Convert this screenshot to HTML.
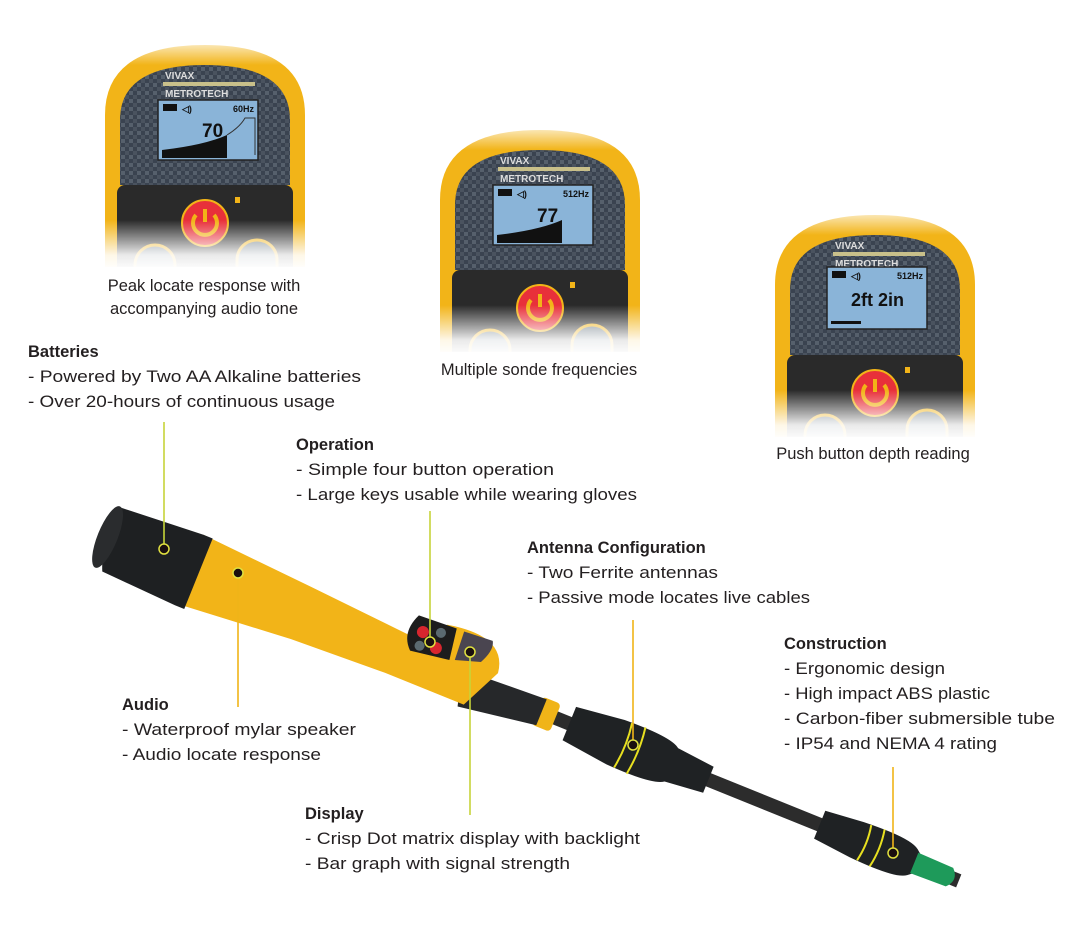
<!DOCTYPE html>
<html><head><meta charset="utf-8"><style>
html,body{margin:0;padding:0;background:#fff;}
svg{display:block;}
text{font-family:"Liberation Sans",sans-serif;fill:#231f20;}
.h{font-weight:bold;font-size:16.5px;}
.t{font-size:16.5px;}
</style></head><body>
<svg width="1088" height="930" viewBox="0 0 1088 930" xmlns="http://www.w3.org/2000/svg">
<defs>
<linearGradient id="fade" x1="0" y1="0" x2="0" y2="1">
<stop offset="0" stop-color="#fff" stop-opacity="0"/>
<stop offset="0.7" stop-color="#fff" stop-opacity="0.9"/>
<stop offset="1" stop-color="#fff" stop-opacity="1"/>
</linearGradient>
<linearGradient id="fadeTop" x1="0" y1="0" x2="0" y2="1">
<stop offset="0" stop-color="#fff" stop-opacity="1"/>
<stop offset="1" stop-color="#fff" stop-opacity="0"/>
</linearGradient>
<pattern id="carbon" width="8" height="8" patternUnits="userSpaceOnUse">
<rect width="8" height="8" fill="#3a4350"/>
<rect width="4" height="4" fill="#56606c"/>
<rect x="4" y="4" width="4" height="4" fill="#4a535f"/>
</pattern>
<clipPath id="dc"><rect x="-10" y="0" width="220" height="232"/></clipPath>
<g id="dev">
<g clip-path="url(#dc)">
<path d="M0,240 L0,80 Q0,10 100,10 Q200,10 200,80 L200,240 Z" fill="#f2b418"/>
<path d="M15,150 L15,85 Q15,30 100,30 Q185,30 185,85 L185,150 Z" fill="url(#carbon)"/>
<rect x="58" y="47" width="92" height="4" fill="#c9c08a"/>
<text x="60" y="44" style="font-size:10px;font-weight:bold;fill:#ddd">VIVAX</text>
<text x="60" y="62" style="font-size:10px;font-weight:bold;fill:#ddd">METROTECH</text>
<rect x="12" y="150" width="176" height="100" rx="8" fill="#2a2a2a"/>
<circle cx="100" cy="188" r="23" fill="#e8303a" stroke="#f2b418" stroke-width="2"/>
<path d="M91,180 A12,12 0 1,0 109,180" fill="none" stroke="#f2b418" stroke-width="4"/>
<line x1="100" y1="174" x2="100" y2="187" stroke="#f2b418" stroke-width="4"/>
<rect x="130" y="162" width="5" height="6" fill="#f2b418"/>
<rect x="30" y="210" width="40" height="50" rx="20" fill="#6b7a84" stroke="#f2b418" stroke-width="3"/>
<rect x="132" y="205" width="40" height="55" rx="20" fill="#6b7a84" stroke="#f2b418" stroke-width="3"/>
<rect x="-5" y="0" width="210" height="30" fill="url(#fadeTop)"/>
<rect x="-5" y="185" width="210" height="50" fill="url(#fade)"/>
</g>
</g>
</defs>

<g transform="translate(105,35)">
<use href="#dev"/>
<rect x="53" y="65" width="100" height="60" fill="#8ab4d8" stroke="#222" stroke-width="1.5"/>
<rect x="58" y="69" width="14" height="7" fill="#111"/>
<text x="77" y="77" style="font-size:9px;font-weight:bold;fill:#111">◁)</text>
<text x="128" y="77" style="font-size:9px;font-weight:bold;fill:#111">60Hz</text>
<text x="97" y="102" style="font-size:19px;font-weight:bold;fill:#111">70</text>
<path d="M57,115 Q100,110 122,100 L122,123 L57,123 Z" fill="#111"/>
<path d="M122,100 Q135,92 140,83 L150,83 L150,120" fill="none" stroke="#333"/>
</g>
<g transform="translate(440,120)">
<use href="#dev"/>
<rect x="53" y="65" width="100" height="60" fill="#8ab4d8" stroke="#222" stroke-width="1.5"/>
<rect x="58" y="69" width="14" height="7" fill="#111"/>
<text x="77" y="77" style="font-size:9px;font-weight:bold;fill:#111">◁)</text>
<text x="123" y="77" style="font-size:9px;font-weight:bold;fill:#111">512Hz</text>
<text x="97" y="102" style="font-size:19px;font-weight:bold;fill:#111">77</text>
<path d="M57,115 Q100,110 122,100 L122,123 L57,123 Z" fill="#111"/>
</g>
<g transform="translate(775,205)">
<use href="#dev"/>
<rect x="52" y="62" width="100" height="62" fill="#8ab4d8" stroke="#222" stroke-width="1.5"/>
<rect x="57" y="66" width="14" height="7" fill="#111"/>
<text x="76" y="74" style="font-size:9px;font-weight:bold;fill:#111">◁)</text>
<text x="122" y="74" style="font-size:9px;font-weight:bold;fill:#111">512Hz</text>
<text x="76" y="101" style="font-size:18px;font-weight:bold;fill:#111">2ft 2in</text>
<rect x="56" y="116" width="30" height="3" fill="#111"/>
</g>

<text class="t" x="204" y="291" text-anchor="middle">Peak locate response with</text>
<text class="t" x="204" y="314" text-anchor="middle">accompanying audio tone</text>
<text class="t" x="539" y="375" text-anchor="middle">Multiple sonde frequencies</text>
<text class="t" x="873" y="459" text-anchor="middle">Push button depth reading</text>

<g transform="translate(115,540) rotate(22)">
<rect x="470" y="-7" width="440" height="14" fill="#2c2c2c"/>
<path d="M490,-18 L540,-24 Q590,-26 600,-18 L640,-14 L640,14 L600,18 Q590,26 540,24 L490,18 Z" fill="#1f2224"/>
<path d="M548,-24 Q552,0 548,24 M562,-25 Q566,0 562,25" stroke="#e8e020" stroke-width="2" fill="none"/>
<path d="M760,-15 L800,-19 Q850,-22 860,-14 L865,-10 L865,10 L860,14 Q850,22 800,19 L760,15 Z" fill="#1f2224"/>
<path d="M808,-19 Q812,0 808,19 M822,-20 Q826,0 822,20" stroke="#e8e020" stroke-width="2" fill="none"/>
<path d="M862,-11 L900,-10 Q910,0 900,10 L862,11 Z" fill="#1e9a5a"/>
<rect x="455" y="-15" width="20" height="30" rx="4" fill="#f0b418"/>
<path d="M370,-10 L460,-14 L460,14 L380,26 Z" fill="#26282a"/>
<path d="M80,-38 L200,-30 L310,-22 L340,-46 Q400,-58 405,-20 L385,22 L300,22 L200,26 L80,36 Z" fill="#f2b418"/>
<path d="M310,-44 L350,-46 L355,-14 L315,-8 Q300,-22 310,-44 Z" fill="#1d1d1d"/>
<circle cx="320" cy="-30" r="6" fill="#d8262e"/>
<circle cx="338" cy="-20" r="6" fill="#d8262e"/>
<circle cx="337" cy="-36" r="5" fill="#5b6a70"/>
<circle cx="322" cy="-16" r="5" fill="#5b6a70"/>
<path d="M358,-46 L388,-48 Q393,-40 385,-24 L360,-16 Z" fill="#4a4550"/>
<path d="M-10,-32 L80,-38 L90,-38 L90,38 L80,38 L0,34 Q-15,0 -10,-32 Z" fill="#1e2022"/>
<ellipse cx="-8" cy="0" rx="10" ry="33" fill="#2a2c2e"/>
</g>

<g stroke-width="1.6" fill="none">
<line x1="164" y1="422" x2="164" y2="548" stroke="#c6d43a"/>
<line x1="238" y1="572" x2="238" y2="707" stroke="#f0b418"/>
<line x1="430" y1="511" x2="430" y2="641" stroke="#c6d43a"/>
<line x1="470" y1="652" x2="470" y2="815" stroke="#c6d43a"/>
<line x1="633" y1="620" x2="633" y2="745" stroke="#f0b418"/>
<line x1="893" y1="767" x2="893" y2="853" stroke="#f0b418"/>
</g>
<g fill="#1a0f0f" stroke="#e0e040" stroke-width="1.5">
<circle cx="164" cy="549" r="5"/>
<circle cx="238" cy="573" r="5"/>
<circle cx="430" cy="642" r="5"/>
<circle cx="470" cy="652" r="5"/>
<circle cx="633" cy="745" r="5"/>
<circle cx="893" cy="853" r="5"/>
</g>

<g lengthAdjust="spacingAndGlyphs">
<text class="h" x="28" y="357">Batteries</text>
<text class="t" x="28" y="382" textLength="333" lengthAdjust="spacingAndGlyphs">- Powered by Two AA Alkaline batteries</text>
<text class="t" x="28" y="407" textLength="307" lengthAdjust="spacingAndGlyphs">- Over 20-hours of continuous usage</text>

<text class="h" x="296" y="450">Operation</text>
<text class="t" x="296" y="475" textLength="258" lengthAdjust="spacingAndGlyphs">- Simple four button operation</text>
<text class="t" x="296" y="500" textLength="341" lengthAdjust="spacingAndGlyphs">- Large keys usable while wearing gloves</text>

<text class="h" x="527" y="553">Antenna Configuration</text>
<text class="t" x="527" y="578" textLength="191" lengthAdjust="spacingAndGlyphs">- Two Ferrite antennas</text>
<text class="t" x="527" y="603" textLength="283" lengthAdjust="spacingAndGlyphs">- Passive mode locates live cables</text>

<text class="h" x="784" y="649">Construction</text>
<text class="t" x="784" y="674" textLength="161" lengthAdjust="spacingAndGlyphs">- Ergonomic design</text>
<text class="t" x="784" y="699" textLength="206" lengthAdjust="spacingAndGlyphs">- High impact ABS plastic</text>
<text class="t" x="784" y="724" textLength="271" lengthAdjust="spacingAndGlyphs">- Carbon-fiber submersible tube</text>
<text class="t" x="784" y="749" textLength="213" lengthAdjust="spacingAndGlyphs">- IP54 and NEMA 4 rating</text>

<text class="h" x="122" y="710">Audio</text>
<text class="t" x="122" y="735" textLength="234" lengthAdjust="spacingAndGlyphs">- Waterproof mylar speaker</text>
<text class="t" x="122" y="760" textLength="199" lengthAdjust="spacingAndGlyphs">- Audio locate response</text>

<text class="h" x="305" y="819">Display</text>
<text class="t" x="305" y="844" textLength="335" lengthAdjust="spacingAndGlyphs">- Crisp Dot matrix display with backlight</text>
<text class="t" x="305" y="869" textLength="265" lengthAdjust="spacingAndGlyphs">- Bar graph with signal strength</text>
</g>
</svg>
</body></html>
